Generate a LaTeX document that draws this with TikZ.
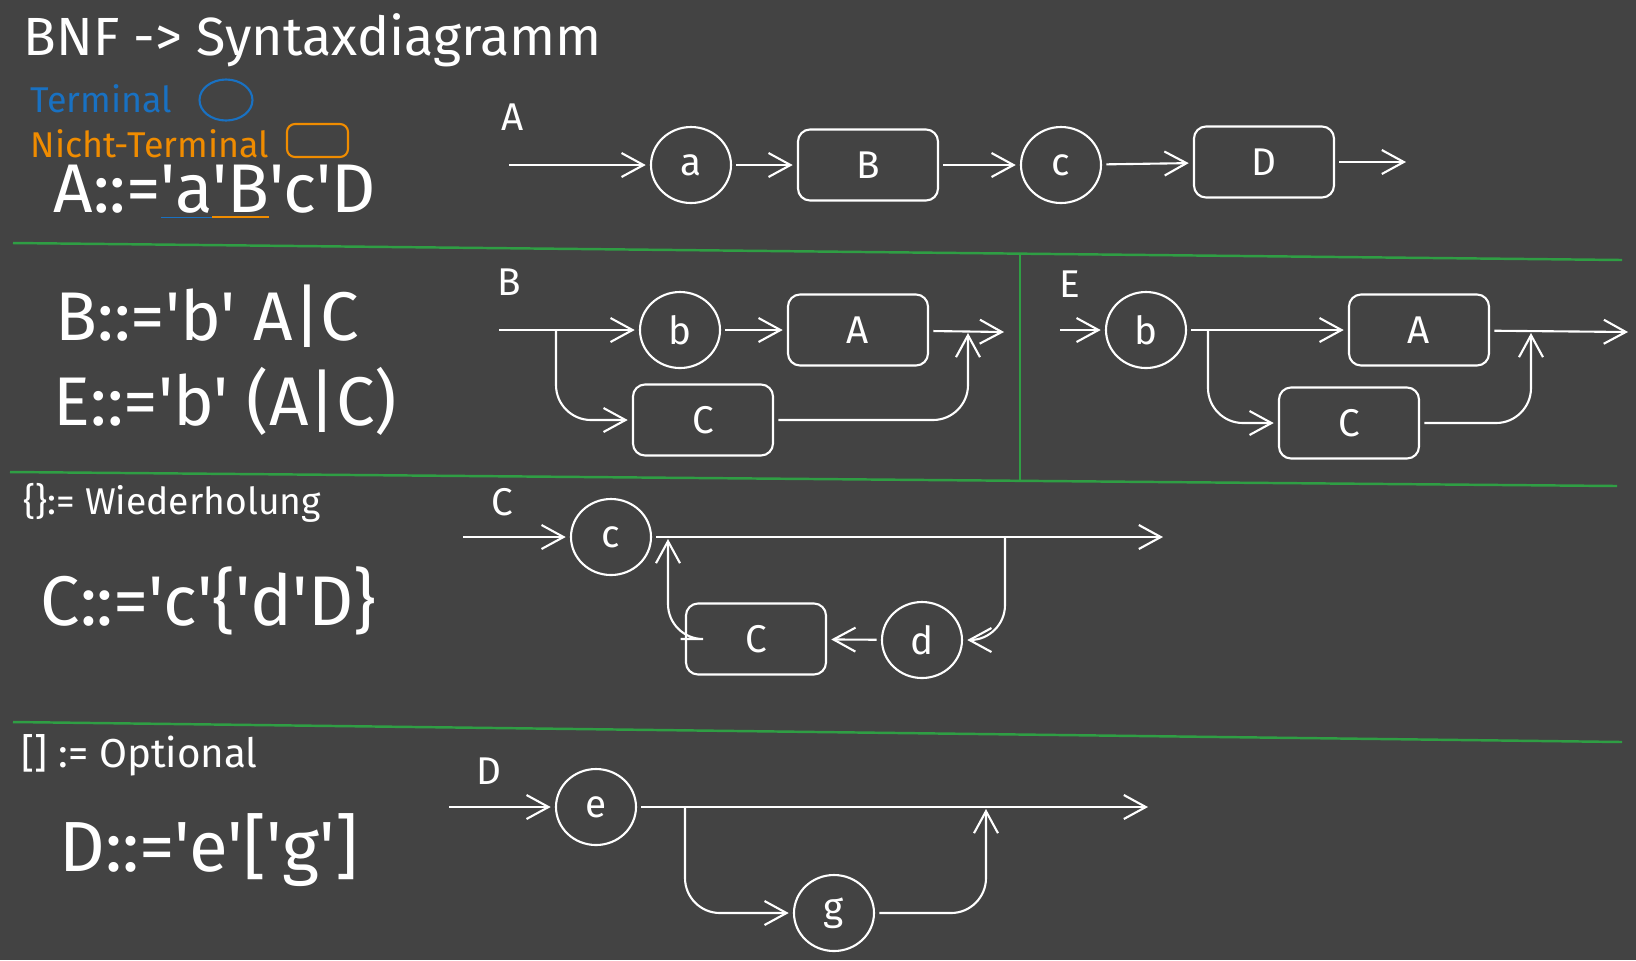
\documentclass[tikz,border=0pt]{standalone}
\usepackage{fontspec}
\setmainfont{Fira Sans}[Ligatures=TeXOff]
\usetikzlibrary{arrows.meta,positioning,shapes.geometric}
\definecolor{boardgray}{RGB}{67,67,67}
\definecolor{rulegreen}{RGB}{47,158,68}
\definecolor{termblue}{RGB}{25,113,194}
\definecolor{ntorange}{RGB}{240,140,0}
\newcommand{\ulterm}[1]{{\color{termblue}$\underline{\hbox{\color{white}#1}}$}}
\newcommand{\ulnonterm}[1]{{\color{ntorange}$\underline{\hbox{\color{white}#1}}$}}

\begin{document}
\begin{tikzpicture}[x=1cm,y=-1cm,
  term/.style={ellipse,draw=white,line width=0.6pt,minimum width=0.80cm,minimum height=0.76cm,inner sep=0pt,outer sep=1.5pt,text=white,font=\fontsize{11}{13}\selectfont},
  nonterm/.style={rectangle,rounded corners=0.12cm,draw=white,line width=0.6pt,minimum width=1.40cm,minimum height=0.71cm,outer sep=1.5pt,text=white,font=\fontsize{11}{13}\selectfont},
  flow/.style={-{Straight Barb[length=2.2mm,width=2.4mm]},white,line width=0.6pt,rounded corners=0.35cm},
  seprule/.style={rulegreen,line width=0.7pt},
  rulelabel/.style={anchor=base west,inner sep=0pt,text=white},
  seclabel/.style={inner sep=0pt,text=white,font=\fontsize{11}{13}\selectfont}]
 \fill[boardgray] (0,0) rectangle (16.36,9.60);
 \useasboundingbox (0,0) rectangle (16.36,9.60);
 % separators
 \draw[seprule] (0.13,2.43) -- (16.22,2.60);
 \draw[seprule] (0.10,4.72) -- (16.17,4.86);
 \draw[seprule] (10.20,2.53) -- (10.20,4.80);
 \draw[seprule] (0.13,7.22) -- (16.22,7.42);
 % left column
 \node[rulelabel,font=\fontsize{15.3}{18}\selectfont] (title) at (0.23,0.55) {BNF -> Syntaxdiagramm};
 \node[rulelabel,text=termblue,font=\fontsize{10.2}{12}\selectfont] (legTtext) at (0.30,1.12) {Terminal};
 \node[term,draw=termblue,minimum width=0.53cm,minimum height=0.41cm] (legT) at (2.26,1.00) {};
 \node[rulelabel,text=ntorange,font=\fontsize{10.2}{12}\selectfont] (legNtext) at (0.30,1.57) {Nicht-Terminal};
 \node[nonterm,draw=ntorange,minimum width=0.61cm,minimum height=0.33cm,rounded corners=0.08cm] (legN) at (3.175,1.405) {};
 \node[rulelabel,font=\fontsize{19.6}{24}\selectfont] (ruleA) at (0.53,2.12) {A::=\ulterm{'a}\ulnonterm{'B}'c'D};
 \node[rulelabel,font=\fontsize{19.6}{24}\selectfont] (ruleB) at (0.55,3.40) {B::='b' A|C};
 \node[rulelabel,font=\fontsize{19.6}{24}\selectfont] (ruleE) at (0.53,4.25) {E::='b' (A|C)};
 \node[rulelabel,font=\fontsize{10.6}{13}\selectfont] (repeat) at (0.23,5.14) {\{\}:= Wiederholung};
 \node[rulelabel,font=\fontsize{20}{24}\selectfont] (ruleC) at (0.40,6.25) {C::='c'\{'d'D\}};
 \node[rulelabel,font=\fontsize{11.5}{13}\selectfont] (optional) at (0.21,7.67) {[] := Optional};
 \node[rulelabel,font=\fontsize{20.2}{24}\selectfont] (ruleD) at (0.59,8.71) {D::='e'['g']};
 % A
 \node[seclabel] (labA) at (5.13,1.17) {A};
 \coordinate (inA) at (5.09,1.65);
 \node[term] (a) at (6.91,1.65) {a};
 \node[nonterm] (B) at (8.68,1.65) {B};
 \node[term] (c) at (10.61,1.65) {c};
 \node[nonterm] (D) at (12.64,1.62) {D};
 \coordinate (outA) at (14.06,1.62);
 \draw[flow] (inA) -- (a);
 \draw[flow] (a) -- (B);
 \draw[flow] (B) -- (c);
 \draw[flow] (c) -- (D);
 \draw[flow] (D) -- (outA);
 % B
 \node[seclabel] (labB) at (5.09,2.82) {B};
 \coordinate (inB) at (4.99,3.30);
 \coordinate (forkB) at (5.56,3.30);
 \node[term] (b1) at (6.80,3.30) {b};
 \node[nonterm] (A1) at (8.58,3.30) {A};
 \node[nonterm] (C1) at (7.03,4.20) {C};
 \coordinate (joinB) at (9.68,3.33);
 \coordinate (outB) at (10.04,3.32);
 \draw[flow] (inB) -- (b1);
 \draw[flow] (b1) -- (A1);
 \draw[flow] (A1) -- (outB);
 \draw[flow] (forkB) |- (C1);
 \draw[flow] (C1) -| (joinB);
 % E
 \node[seclabel] (labE) at (10.70,2.84) {E};
 \coordinate (inE) at (10.60,3.30);
 \node[term] (b2) at (11.46,3.30) {b};
 \coordinate (forkE) at (12.08,3.30);
 \node[nonterm] (A2) at (14.19,3.30) {A};
 \node[nonterm] (C2) at (13.49,4.23) {C};
 \coordinate (joinE) at (15.31,3.33);
 \coordinate (outE) at (16.28,3.32);
 \draw[flow] (inE) -- (b2);
 \draw[flow] (b2) -- (A2);
 \draw[flow] (A2) -- (outE);
 \draw[flow] (forkE) |- (C2);
 \draw[flow] (C2) -| (joinE);
 % C
 \node[seclabel] (labC) at (5.02,5.02) {C};
 \coordinate (inC) at (4.63,5.37);
 \node[term] (c2) at (6.11,5.37) {c};
 \coordinate (forkC) at (10.05,5.37);
 \coordinate (outC) at (11.63,5.37);
 \node[term] (d) at (9.22,6.40) {d};
 \node[nonterm] (C3) at (7.56,6.39) {C};
 \coordinate (joinC) at (6.68,5.39);
 \draw[flow] (inC) -- (c2);
 \draw[flow] (c2) -- (outC);
 \draw[flow] (forkC) |- (d);
 \draw[flow] (d) -- (C3);
 \draw[flow] (C3) -| (joinC);
 % D
 \node[seclabel] (labD) at (4.89,7.71) {D};
 \coordinate (inD) at (4.49,8.07);
 \node[term] (e) at (5.96,8.07) {e};
 \coordinate (forkD) at (6.85,8.07);
 \coordinate (outD) at (11.48,8.07);
 \node[term] (g) at (8.34,9.13) {g};
 \coordinate (joinD) at (9.86,8.09);
 \draw[flow] (inD) -- (e);
 \draw[flow] (e) -- (outD);
 \draw[flow] (forkD) |- (g);
 \draw[flow] (g) -| (joinD);
\end{tikzpicture}
\end{document}
